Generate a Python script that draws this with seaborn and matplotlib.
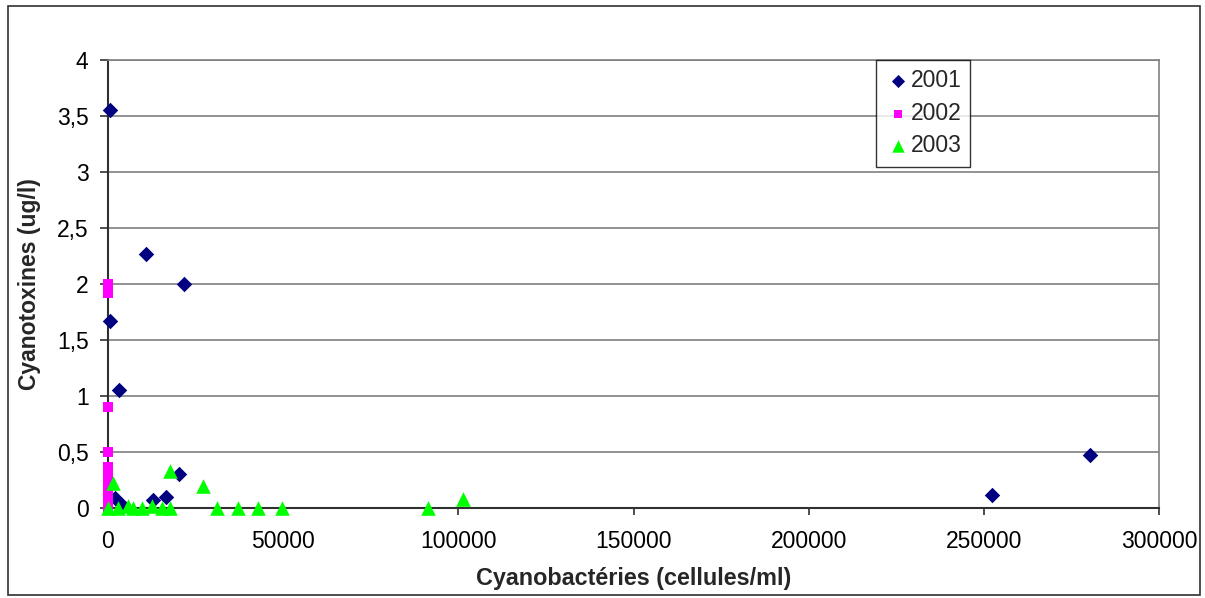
import numpy as np
import pandas as pd
import matplotlib
matplotlib.use("Agg")
import matplotlib.pyplot as plt
import seaborn as sns
from matplotlib.patches import Rectangle

# ---- data ----
x_2001 = [500, 500, 3000, 10800, 21700, 2000, 4000, 12800, 16600, 20400, 252400, 280300]
y_2001 = [3.55, 1.67, 1.05, 2.27, 2.00, 0.09, 0.03, 0.07, 0.10, 0.30, 0.12, 0.47]

x_2002 = [0, 0, 0, 0, 0, 0, 0, 0, 0, 0, 0, 0]
y_2002 = [2.00, 1.92, 0.90, 0.50, 0.37, 0.32, 0.27, 0.21, 0.15, 0.10, 0.05, 0.00]

x_2003 = [1400, 17700, 27100, 0, 2800, 5700, 7100, 9700, 12600, 15400, 17700,
          31100, 37100, 42800, 49700, 91300, 101300]
y_2003 = [0.22, 0.33, 0.20, 0.00, 0.00, 0.02, 0.00, 0.00, 0.02, 0.00, 0.00,
          0.00, 0.00, 0.00, 0.00, 0.00, 0.08]

years = ["2001", "2002", "2003"]
y_ticks = [0, 0.5, 1, 1.5, 2, 2.5, 3, 3.5, 4]
y_tick_labels = ["0", "0,5", "1", "1,5", "2", "2,5", "3", "3,5", "4"]
x_ticks = [0, 50000, 100000, 150000, 200000, 250000, 300000]
x_tick_labels = ["0", "50000", "100000", "150000", "200000", "250000", "300000"]

df = pd.DataFrame({
    "x": x_2001 + x_2002 + x_2003,
    "y": y_2001 + y_2002 + y_2003,
    "year": ["2001"] * len(x_2001) + ["2002"] * len(x_2002) + ["2003"] * len(x_2003),
})

sns.set_theme(style="white")
plt.rcParams["font.family"] = ["Liberation Sans", "DejaVu Sans"]

fig = plt.figure(figsize=(12.05, 5.98), dpi=100)
ax = fig.add_axes([108 / 1205, 1 - 508 / 598, (1159 - 108) / 1205, (508 - 60) / 598])

palette = {"2001": "#000080", "2002": "#FF00FF", "2003": "#00FF00"}
markers = {"2001": "D", "2002": "s", "2003": "^"}
sizes_map = {"2001": 62, "2002": 52, "2003": 110}

for yr in years:
    sub = df[df["year"] == yr]
    sns.scatterplot(data=sub, x="x", y="y", color=palette[yr], marker=markers[yr],
                    s=sizes_map[yr], linewidth=0, ax=ax, label=yr, zorder=3, clip_on=False)

ax.set_xlim(0, 300000)
ax.set_ylim(0, 4)
ax.set_yticks(y_ticks)
ax.set_yticklabels(y_tick_labels)
ax.set_xticks(x_ticks)
ax.set_xticklabels(x_tick_labels)
ax.tick_params(axis="both", labelsize=16.5, colors="black", width=1.2,
               direction="out", left=True, bottom=True)
ax.tick_params(axis="y", length=6, pad=8, color="#303030")
ax.tick_params(axis="x", length=5, pad=11, color="#303030")
ax.yaxis.grid(True, color="#808080", linewidth=1.2)
ax.xaxis.grid(False)
ax.set_axisbelow(True)
for side in ["left", "bottom"]:
    ax.spines[side].set_color("#303030")
    ax.spines[side].set_linewidth(1.5)
ax.spines["right"].set_color("#808080")
ax.spines["right"].set_linewidth(1.2)
ax.spines["top"].set_color("#808080")
ax.spines["top"].set_linewidth(1.2)

ax.set_xlabel("Cyanobactéries (cellules/ml)", fontsize=16.8, fontweight="bold")
ax.set_ylabel("Cyanotoxines (ug/l)", fontsize=16.5, fontweight="bold")
ax.xaxis.set_label_coords(0.5, -(578 - 508) / 448, transform=ax.transAxes)
ax.yaxis.set_label_coords(-(108 - 30) / 1051, 0.5, transform=ax.transAxes)
ax.xaxis.label.set_va("center")
ax.yaxis.label.set_va("center")

leg = ax.legend(loc="upper left", bbox_to_anchor=((876 - 108) / 1051, 1.0),
                frameon=True, fancybox=False, fontsize=16.5, handletextpad=0.0,
                labelspacing=0.42, borderpad=0.4, borderaxespad=0.0,
                markerscale=0.85, handlelength=1.1)
leg.get_frame().set_edgecolor("black")
leg.get_frame().set_linewidth(1.0)

fig.patches.append(Rectangle((8 / 1205, 1 - 595 / 598), (1200 - 8) / 1205, (595 - 6) / 598,
                             transform=fig.transFigure, fill=False, edgecolor="#303030",
                             linewidth=1.2))

fig.savefig("out.png", dpi=100)
